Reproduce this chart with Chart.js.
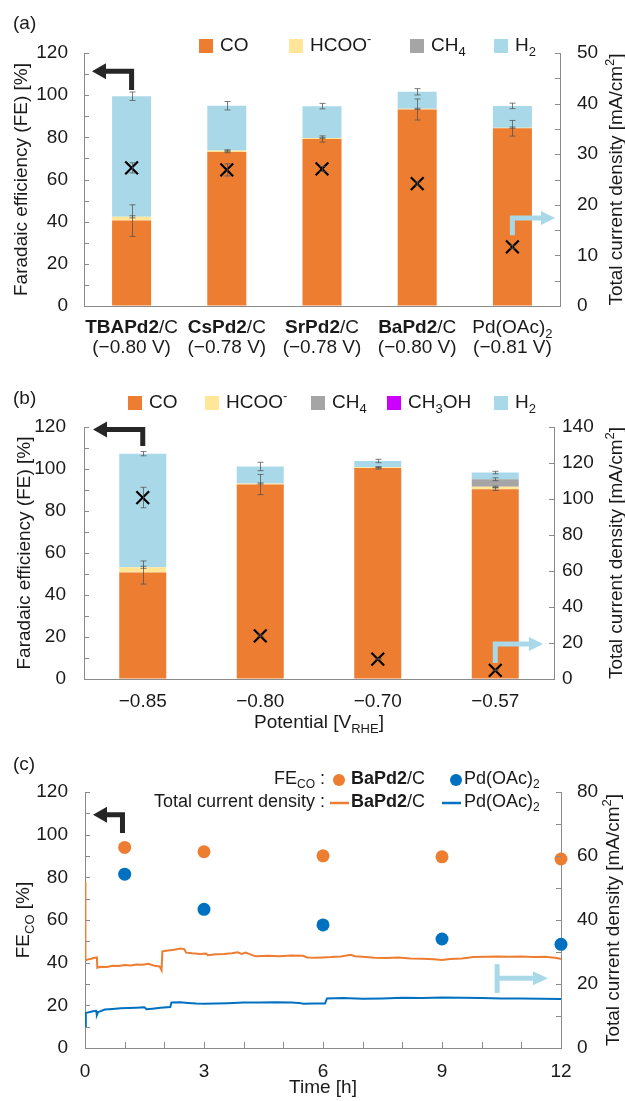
<!DOCTYPE html>
<html>
<head>
<meta charset="utf-8">
<script src="https://cdn.jsdelivr.net/npm/chart.js@4.4.0/dist/chart.umd.min.js"></script>
<style>
  html, body { margin: 0; padding: 0; background: #fff; }
  #wrap { position: relative; width: 625px; height: 1101px; }
  #wrap canvas { position: absolute; left: 0; }
</style>
</head>
<body>
<div id="wrap">
  <canvas id="chartA" width="625" height="365" style="top:0px"></canvas>
  <canvas id="chartB" width="625" height="375" style="top:365px"></canvas>
  <canvas id="chartC" width="625" height="361" style="top:740px"></canvas>
</div>
<script>
// ---- (a) catalysts, FE [%] stacked + total current density [mA/cm2]
const catBold = ['TBAPd2', 'CsPd2', 'SrPd2', 'BaPd2', ''];
const catRest = ['/C', '/C', '/C', '/C', 'Pd(OAc)'];
const catSub = ['', '', '', '', '2'];
const catPot = ['(\u22120.80 V)', '(\u22120.78 V)', '(\u22120.78 V)', '(\u22120.80 V)', '(\u22120.81 V)'];
const feCoA = [40.5, 73.1, 79.2, 93.2, 84.3];
const feHcooA = [1.8, 0.7, 0.5, 0.3, 0.3];
const feCh4A = [0, 0, 0, 0, 0];
const feH2A = [57.2, 21.2, 15.1, 8.1, 10.3];
const errCoA = [7.5, 0.4, 1.5, 5.0, 3.7];
const errHcooA = [0.5, 0.3, 0.3, 0.3, 0.3];
const errH2A = [2.0, 2.0, 1.3, 1.5, 1.3];
const jA = [27.3, 26.9, 27.1, 24.2, 11.7];
const errJA = [1.0, 1.2, 0.5, 0.3, 0.3];

// ---- (b) BaPd2/C vs potential
const potentials = ['\u22120.85', '\u22120.80', '\u22120.70', '\u22120.57'];
const feCoB = [50.7, 92.6, 100.5, 90.4];
const feHcooB = [2.5, 0.5, 0.3, 1.1];
const feCh4B = [0, 0, 0, 3.6];
const feCh3ohB = [0, 0, 0, 0];
const feH2B = [54.1, 8.1, 3.0, 3.2];
const errCoB = [5.5, 4.8, 0.5, 0.6];
const errHcooB = [0.5, 0.3, 0.2, 0.3];
const errCh4B = [0, 0, 0, 0.7];
const errH2B = [1.0, 2.0, 0.8, 0.6];
const jB = [100.8, 24.0, 11.0, 4.8];
const errJB = [5.7, 0.5, 0.3, 0.3];

// ---- (c) stability over 12 h
const timeFe = [1, 3, 6, 9, 12];
const feCoBaPd2 = [94.0, 92.0, 90.1, 89.6, 88.6];
const feCoPdOAc = [81.5, 65.0, 57.7, 51.1, 48.6];
// [time h, current density mA/cm2]
const jBaTrace = [[0, 52.0], [0.01, 27.4], [0.08, 27.7], [0.16, 27.9], [0.24, 28.2], [0.3, 28.3], [0.31, 25.1],
  [0.4, 25.4], [0.55, 25.3], [0.7, 25.7], [0.85, 25.6], [1.0, 25.9], [1.15, 25.8], [1.3, 26.1], [1.45, 26.0],
  [1.6, 26.3], [1.75, 25.7], [1.88, 25.5], [1.93, 24.3], [1.95, 30.2], [2.1, 30.5], [2.25, 30.7], [2.4, 31.1],
  [2.5, 30.9], [2.55, 29.8], [2.7, 29.6], [2.9, 29.4], [3.05, 29.5], [3.1, 29.0], [3.3, 29.3], [3.5, 29.4],
  [3.7, 29.6], [3.85, 29.9], [3.95, 29.4], [4.05, 29.8], [4.2, 29.1], [4.3, 28.7], [4.6, 28.8], [4.9, 28.7],
  [5.2, 28.9], [5.5, 28.8], [5.6, 28.3], [5.8, 28.2], [6.0, 28.3], [6.2, 28.4], [6.45, 28.6], [6.7, 29.1],
  [6.8, 28.7], [7.0, 28.5], [7.3, 28.2], [7.6, 28.1], [7.9, 28.3], [8.2, 28.0], [8.5, 27.9], [8.8, 27.7],
  [9.0, 27.5], [9.2, 27.8], [9.5, 28.0], [9.8, 28.4], [10.1, 28.5], [10.4, 28.6], [10.7, 28.5], [11.0, 28.6],
  [11.3, 28.4], [11.6, 28.5], [11.9, 28.1], [12.0, 27.8]];
const jPdTrace = [[0, 6.7], [0.02, 10.9], [0.1, 11.2], [0.2, 11.5], [0.28, 11.6], [0.3, 10.3], [0.33, 11.2],
  [0.5, 12.0], [0.7, 12.2], [0.9, 12.4], [1.1, 12.5], [1.3, 12.6], [1.5, 12.7], [1.55, 12.1], [1.7, 12.3],
  [1.9, 12.6], [2.15, 12.8], [2.18, 14.2], [2.4, 14.3], [2.6, 14.1], [2.8, 13.9], [3.0, 13.8], [3.3, 13.9],
  [3.6, 14.0], [4.0, 14.2], [4.4, 14.2], [4.8, 14.3], [5.2, 14.2], [5.4, 14.1], [5.5, 13.8], [5.8, 13.9],
  [6.05, 13.9], [6.1, 15.5], [6.5, 15.6], [7.0, 15.4], [7.5, 15.5], [8.0, 15.7], [8.5, 15.6], [9.0, 15.8],
  [9.5, 15.7], [10.0, 15.6], [10.5, 15.5], [11.0, 15.5], [11.5, 15.4], [12.0, 15.3]];

const FONT = "'Liberation Sans', Arial, sans-serif";
const TXT = '#1a1a1a';
const AX = '#8a8a8a';
const ERR = 'rgba(80,80,80,0.75)';
const C_CO = '#ED7D31', C_HCOO = '#FFE699', C_CH4 = '#A5A5A5', C_CH3OH = '#CC00FF', C_H2 = '#A9D9E8';
const C_BLUE = '#0070C0', DARK = '#262626';

Chart.defaults.font.family = FONT;
Chart.defaults.font.size = 19;
Chart.defaults.color = TXT;

// text with bold / sub / sup pieces
function rich(ctx, segs, x, y, align, size) {
  size = size || 19;
  const fontOf = s => (s.b ? 'bold ' : '') + ((s.sub || s.sup) ? Math.round(size * 0.68) : size) + 'px ' + FONT;
  let w = 0;
  segs.forEach(s => { ctx.font = fontOf(s); w += ctx.measureText(s.t).width; });
  let cx = align === 'center' ? x - w / 2 : align === 'right' ? x - w : x;
  ctx.textBaseline = 'middle';
  ctx.textAlign = 'left';
  segs.forEach(s => {
    ctx.font = fontOf(s);
    const dy = s.sub ? size * 0.32 : s.sup ? -size * 0.35 : 0;
    ctx.fillText(s.t, cx, y + dy);
    cx += ctx.measureText(s.t).width;
  });
}

function vTitle(ctx, segs, x, y) {
  ctx.save();
  ctx.translate(x, y);
  ctx.rotate(-Math.PI / 2);
  rich(ctx, segs, 0, 0, 'center');
  ctx.restore();
}

function arrow(ctx, pts, color, w, head, half) {
  const n = pts.length;
  const [tx, ty] = pts[n - 1], [px, py] = pts[n - 2];
  const d = Math.hypot(tx - px, ty - py), ux = (tx - px) / d, uy = (ty - py) / d;
  const bx = tx - ux * head, by = ty - uy * head;
  ctx.save();
  ctx.strokeStyle = color; ctx.fillStyle = color; ctx.lineWidth = w;
  ctx.lineJoin = 'miter'; ctx.lineCap = 'butt';
  ctx.beginPath();
  ctx.moveTo(pts[0][0], pts[0][1]);
  for (let i = 1; i < n - 1; i++) ctx.lineTo(pts[i][0], pts[i][1]);
  ctx.lineTo(bx, by);
  ctx.stroke();
  ctx.beginPath();
  ctx.moveTo(tx, ty);
  ctx.lineTo(bx - uy * half, by + ux * half);
  ctx.lineTo(bx + uy * half, by - ux * half);
  ctx.closePath();
  ctx.fill();
  ctx.restore();
}

function whisker(ctx, x, y1, y2, cap) {
  ctx.beginPath();
  ctx.moveTo(x, y1); ctx.lineTo(x, y2);
  ctx.moveTo(x - cap, y1); ctx.lineTo(x + cap, y1);
  ctx.moveTo(x - cap, y2); ctx.lineTo(x + cap, y2);
  ctx.stroke();
}

function errorBars(chart, series, errs, jVals, jErr) {
  const ctx = chart.ctx, xs = chart.scales.x, ys = chart.scales.y, y2 = chart.scales.y2;
  ctx.save();
  ctx.strokeStyle = ERR; ctx.lineWidth = 1;
  series[0].forEach((_, i) => {
    const x = Math.round(xs.getPixelForValue(i)) + 0.5;
    let cum = 0;
    series.forEach((s, k) => {
      cum += s[i];
      const e = errs[k] ? errs[k][i] : 0;
      if (!e || !s[i]) return;
      whisker(ctx, x, ys.getPixelForValue(cum - e), ys.getPixelForValue(cum + e), 3);
    });
    whisker(ctx, x, y2.getPixelForValue(jVals[i] - jErr[i]), y2.getPixelForValue(jVals[i] + jErr[i]), 3);
  });
  ctx.restore();
}

// ticks pointing into the plot
function innerTicks(chart, id, len) {
  const s = chart.scales[id], a = chart.chartArea, ctx = chart.ctx;
  ctx.save();
  ctx.strokeStyle = AX; ctx.lineWidth = 1;
  s.ticks.forEach(t => {
    const p = Math.round(s.getPixelForValue(t.value)) + 0.5;
    ctx.beginPath();
    if (s.isHorizontal()) { ctx.moveTo(p, a.bottom); ctx.lineTo(p, a.bottom - len); }
    else if (s.position === 'left') { ctx.moveTo(a.left, p); ctx.lineTo(a.left + len, p); }
    else { ctx.moveTo(a.right, p); ctx.lineTo(a.right - len, p); }
    ctx.stroke();
  });
  ctx.restore();
}

function legendBoxes(ctx, items, yc) {
  items.forEach(it => {
    ctx.fillStyle = it.color;
    ctx.fillRect(it.x, yc - 7, 14, 14);
    ctx.fillStyle = TXT;
    rich(ctx, it.segs, it.x + 21, yc, 'left');
  });
}

function yAxis(pos, max, step, every, width, pad, stacked) {
  return {
    position: pos, min: 0, max: max, stacked: stacked,
    border: { color: AX, width: 1 },
    grid: { drawOnChartArea: false, drawTicks: false },
    ticks: { stepSize: step, autoSkip: false, padding: pad, color: TXT,
             callback: v => (v % every === 0 ? v : '') },
    afterFit: s => { s.width = width; }
  };
}

function bar(label, data, color) {
  return { label, data, backgroundColor: color, borderWidth: 0, order: 1,
           barPercentage: 0.41, categoryPercentage: 1 };
}

function cross(data) {
  return { type: 'line', label: 'Total current density', data, yAxisID: 'y2', showLine: false, order: 0,
           pointStyle: 'crossRot', pointRadius: 9, borderColor: '#000', backgroundColor: '#000',
           borderWidth: 2.2, pointBorderWidth: 2.2 };
}

// ---------- (a)
const decoA = {
  id: 'decoA',
  afterDatasetsDraw(chart) {
    errorBars(chart, [feCoA, feHcooA, feCh4A, feH2A], [errCoA, errHcooA, null, errH2A], jA, errJA);
  },
  afterDraw(chart) {
    const ctx = chart.ctx, a = chart.chartArea, xs = chart.scales.x, ys = chart.scales.y, y2 = chart.scales.y2;
    innerTicks(chart, 'y', 5);
    innerTicks(chart, 'y2', 5);
    ctx.save();
    ctx.fillStyle = TXT;
    rich(ctx, [{ t: '(a)' }], 13, 24, 'left');
    legendBoxes(ctx, [
      { x: 199, color: C_CO, segs: [{ t: 'CO' }] },
      { x: 289, color: C_HCOO, segs: [{ t: 'HCOO' }, { t: '-', sup: true }] },
      { x: 410, color: C_CH4, segs: [{ t: 'CH' }, { t: '4', sub: true }] },
      { x: 494, color: C_H2, segs: [{ t: 'H' }, { t: '2', sub: true }] }
    ], 46);
    ctx.fillStyle = TXT;
    vTitle(ctx, [{ t: 'Faradaic efficiency (FE) [%]' }], 22, (a.top + a.bottom) / 2);
    vTitle(ctx, [{ t: 'Total current density [mA/cm' }, { t: '2', sup: true }, { t: ']' }], 617, (a.top + a.bottom) / 2);
    catBold.forEach((b, i) => {
      const x = xs.getPixelForValue(i);
      rich(ctx, [{ t: b, b: true }, { t: catRest[i] }, { t: catSub[i], sub: true }], x, a.bottom + 22, 'center');
      rich(ctx, [{ t: catPot[i] }], x, a.bottom + 42, 'center');
    });
    ctx.restore();
    const x0 = xs.getPixelForValue(0), x4 = xs.getPixelForValue(4);
    arrow(ctx, [[x0, ys.getPixelForValue(102.5)], [x0, ys.getPixelForValue(111.3)], [a.left + 8, ys.getPixelForValue(111.3)]], DARK, 5, 14, 8);
    arrow(ctx, [[x4, y2.getPixelForValue(14)], [x4, y2.getPixelForValue(17.4)], [a.right - 5, y2.getPixelForValue(17.4)]], C_H2, 5, 14, 7);
  }
};

new Chart(document.getElementById('chartA'), {
  type: 'bar',
  data: {
    labels: catBold.map((b, i) => b + catRest[i] + catSub[i]),
    datasets: [
      cross(jA),
      bar('CO', feCoA, C_CO),
      bar('HCOO-', feHcooA, C_HCOO),
      bar('CH4', feCh4A, C_CH4),
      bar('H2', feH2A, C_H2)
    ]
  },
  options: {
    responsive: false, animation: false, devicePixelRatio: 1, events: [],
    layout: { padding: { top: 53, left: 0, right: 0, bottom: 0 } },
    plugins: { legend: { display: false }, tooltip: { enabled: false } },
    scales: {
      x: { stacked: true, border: { color: AX }, grid: { drawOnChartArea: false, drawTicks: false },
           ticks: { display: false }, afterFit: s => { s.height = 59; } },
      y: yAxis('left', 120, 10, 20, 84, 16, true),
      y2: yAxis('right', 50, 5, 10, 65, 17, false)
    }
  },
  plugins: [decoA]
});

// ---------- (b)
const decoB = {
  id: 'decoB',
  afterDatasetsDraw(chart) {
    errorBars(chart, [feCoB, feHcooB, feCh4B, feCh3ohB, feH2B], [errCoB, errHcooB, errCh4B, null, errH2B], jB, errJB);
  },
  afterDraw(chart) {
    const ctx = chart.ctx, a = chart.chartArea, xs = chart.scales.x, ys = chart.scales.y, y2 = chart.scales.y2;
    innerTicks(chart, 'y', 5);
    innerTicks(chart, 'y2', 5);
    ctx.save();
    ctx.fillStyle = TXT;
    rich(ctx, [{ t: '(b)' }], 13, 34, 'left');
    legendBoxes(ctx, [
      { x: 128, color: C_CO, segs: [{ t: 'CO' }] },
      { x: 205, color: C_HCOO, segs: [{ t: 'HCOO' }, { t: '-', sup: true }] },
      { x: 311, color: C_CH4, segs: [{ t: 'CH' }, { t: '4', sub: true }] },
      { x: 387, color: C_CH3OH, segs: [{ t: 'CH' }, { t: '3', sub: true }, { t: 'OH' }] },
      { x: 494, color: C_H2, segs: [{ t: 'H' }, { t: '2', sub: true }] }
    ], 38);
    ctx.fillStyle = TXT;
    vTitle(ctx, [{ t: 'Faradaic efficiency (FE) [%]' }], 25, (a.top + a.bottom) / 2);
    vTitle(ctx, [{ t: 'Total current density [mA/cm' }, { t: '2', sup: true }, { t: ']' }], 617, (a.top + a.bottom) / 2);
    rich(ctx, [{ t: 'Potential [V' }, { t: 'RHE', sub: true }, { t: ']' }], (a.left + a.right) / 2, 358, 'center');
    ctx.restore();
    const x0 = xs.getPixelForValue(0), x3 = xs.getPixelForValue(3);
    arrow(ctx, [[x0, ys.getPixelForValue(111)], [x0, ys.getPixelForValue(118.8)], [a.left + 9, ys.getPixelForValue(118.8)]], DARK, 5, 14, 8);
    arrow(ctx, [[x3, y2.getPixelForValue(8.9)], [x3, y2.getPixelForValue(19.4)], [a.right - 11, y2.getPixelForValue(19.4)]], C_H2, 5, 14, 7);
  }
};

new Chart(document.getElementById('chartB'), {
  type: 'bar',
  data: {
    labels: potentials,
    datasets: [
      cross(jB),
      bar('CO', feCoB, C_CO),
      bar('HCOO-', feHcooB, C_HCOO),
      bar('CH4', feCh4B, C_CH4),
      bar('CH3OH', feCh3ohB, C_CH3OH),
      bar('H2', feH2B, C_H2)
    ].map(d => (d.type ? d : Object.assign(d, { barPercentage: 0.40 })))
  },
  options: {
    responsive: false, animation: false, devicePixelRatio: 1, events: [],
    layout: { padding: { top: 62, left: 0, right: 0, bottom: 0 } },
    plugins: { legend: { display: false }, tooltip: { enabled: false } },
    scales: {
      x: { stacked: true, border: { color: AX }, grid: { drawOnChartArea: false, drawTicks: false },
           ticks: { padding: 11, maxRotation: 0, color: TXT }, afterFit: s => { s.height = 61; } },
      y: yAxis('left', 120, 10, 20, 84, 18, true),
      y2: yAxis('right', 140, 20, 20, 71, 8, false)
    }
  },
  plugins: [decoB]
});

// ---------- (c)
const decoC = {
  id: 'decoC',
  afterDraw(chart) {
    const ctx = chart.ctx, a = chart.chartArea, xs = chart.scales.x, ys = chart.scales.y, y2 = chart.scales.y2;
    innerTicks(chart, 'y', 5);
    innerTicks(chart, 'y2', 5);
    innerTicks(chart, 'x', 6);
    ctx.save();
    ctx.fillStyle = TXT;
    rich(ctx, [{ t: '(c)' }], 13, 25, 'left');
    // legend row 1
    rich(ctx, [{ t: 'FE' }, { t: 'CO', sub: true }, { t: ' :' }], 325, 39, 'right', 18);
    ctx.fillStyle = C_CO; ctx.beginPath(); ctx.arc(339, 40, 6, 0, Math.PI * 2); ctx.fill();
    ctx.fillStyle = C_BLUE; ctx.beginPath(); ctx.arc(456, 40, 6, 0, Math.PI * 2); ctx.fill();
    ctx.fillStyle = TXT;
    rich(ctx, [{ t: 'BaPd2', b: true }, { t: '/C' }], 351, 39, 'left', 18);
    rich(ctx, [{ t: 'Pd(OAc)' }, { t: '2', sub: true }], 464, 39, 'left', 18);
    // legend row 2
    rich(ctx, [{ t: 'Total current density :' }], 325, 62, 'right', 18);
    ctx.lineWidth = 2.5;
    ctx.strokeStyle = C_CO; ctx.beginPath(); ctx.moveTo(330, 63); ctx.lineTo(349, 63); ctx.stroke();
    ctx.strokeStyle = C_BLUE; ctx.beginPath(); ctx.moveTo(442, 63); ctx.lineTo(461, 63); ctx.stroke();
    rich(ctx, [{ t: 'BaPd2', b: true }, { t: '/C' }], 351, 62, 'left', 18);
    rich(ctx, [{ t: 'Pd(OAc)' }, { t: '2', sub: true }], 464, 62, 'left', 18);
    vTitle(ctx, [{ t: 'FE' }, { t: 'CO', sub: true }, { t: ' [%]' }], 24, (a.top + a.bottom) / 2);
    vTitle(ctx, [{ t: 'Total current density [mA/cm' }, { t: '2', sup: true }, { t: ']' }], 614, (a.top + a.bottom) / 2);
    rich(ctx, [{ t: 'Time [h]' }], (a.left + a.right) / 2, 348, 'center');
    ctx.restore();
    // left arrow (FE axis) and right bracket arrow (current axis)
    const xa = xs.getPixelForValue(0.945);
    arrow(ctx, [[xa, ys.getPixelForValue(100.8)], [xa, ys.getPixelForValue(109.3)], [a.left + 8, ys.getPixelForValue(109.3)]], DARK, 5, 14, 8);
    const xb = xs.getPixelForValue(10.39);
    ctx.save();
    ctx.strokeStyle = C_H2; ctx.lineWidth = 5;
    ctx.beginPath(); ctx.moveTo(xb, y2.getPixelForValue(26.2)); ctx.lineTo(xb, y2.getPixelForValue(17.2)); ctx.stroke();
    ctx.restore();
    arrow(ctx, [[xb, y2.getPixelForValue(21.8)], [xs.getPixelForValue(11.67), y2.getPixelForValue(21.8)]], C_H2, 5, 15, 7);
  }
};

new Chart(document.getElementById('chartC'), {
  type: 'scatter',
  data: {
    datasets: [
      { label: 'FE CO BaPd2/C', data: timeFe.map((t, i) => ({ x: t, y: feCoBaPd2[i] })), yAxisID: 'y',
        pointRadius: 6.5, backgroundColor: C_CO, borderWidth: 0, order: 0, clip: false },
      { label: 'FE CO Pd(OAc)2', data: timeFe.map((t, i) => ({ x: t, y: feCoPdOAc[i] })), yAxisID: 'y',
        pointRadius: 6.5, backgroundColor: C_BLUE, borderWidth: 0, order: 0, clip: false },
      { label: 'j BaPd2/C', data: jBaTrace.map(p => ({ x: p[0], y: p[1] })), yAxisID: 'y2', showLine: true,
        pointRadius: 0, borderColor: C_CO, borderWidth: 2, tension: 0, order: 1 },
      { label: 'j Pd(OAc)2', data: jPdTrace.map(p => ({ x: p[0], y: p[1] })), yAxisID: 'y2', showLine: true,
        pointRadius: 0, borderColor: C_BLUE, borderWidth: 2, tension: 0, order: 1 }
    ]
  },
  options: {
    responsive: false, animation: false, devicePixelRatio: 1, events: [],
    layout: { padding: { top: 52, left: 0, right: 0, bottom: 0 } },
    plugins: { legend: { display: false }, tooltip: { enabled: false } },
    scales: {
      x: { type: 'linear', min: 0, max: 12, border: { color: AX },
           grid: { drawOnChartArea: false, drawTicks: false },
           ticks: { stepSize: 1, autoSkip: false, padding: 12, maxRotation: 0, color: TXT,
                    callback: v => (v % 3 === 0 ? v : '') },
           afterFit: s => { s.height = 53; } },
      y: yAxis('left', 120, 10, 20, 85, 17, false),
      y2: yAxis('right', 80, 10, 20, 64, 16, false)
    }
  },
  plugins: [decoC]
});
</script>
</body>
</html>
